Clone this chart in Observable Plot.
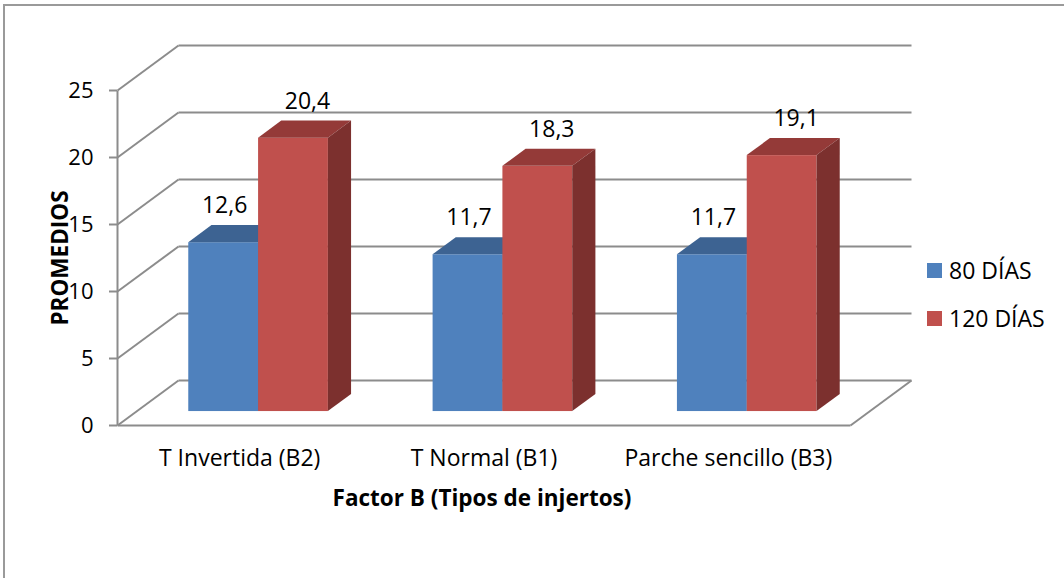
<!DOCTYPE html>
<html>
<head>
<meta charset="utf-8">
<script src="https://cdn.jsdelivr.net/npm/d3@7"></script>
<script src="https://cdn.jsdelivr.net/npm/@observablehq/plot@0.6"></script>
<style>
  html, body { margin: 0; padding: 0; background: #fff; }
  #chart { position: relative; width: 1064px; height: 578px; overflow: hidden; font-family: "Open Sans", Lato, sans-serif; color: #000; }
  #frame { position: absolute; left: 3px; top: 4px; right: -10px; bottom: -10px; border-left: 2px solid #9a9a9a; border-top: 2px solid #9a9a9a; }
  #plot { position: absolute; left: 0; top: 0; }
  .legend { position: absolute; left: 927px; top: 255px; font-size: 23px; }
  .legend .row { display: flex; align-items: center; height: 30px; margin-bottom: 18px; }
  .legend .sw { width: 15px; height: 15px; margin-right: 7px; }
  .title { position: absolute; font-weight: bold; font-size: 22.5px; white-space: nowrap; line-height: 1; }
  #ytitle { left: 60px; top: 258px; transform: translate(-50%, -50%) rotate(-90deg); }
  #xtitle { left: 482px; top: 498px; transform: translate(-50%, -50%); }
</style>
</head>
<body>
<div id="chart">
  <div id="frame"></div>
  <div id="plot"></div>
  <div class="title" id="ytitle"></div>
  <div class="title" id="xtitle"></div>
  <div class="legend" id="legend"></div>
</div>
<script>
// Graft types (Factor B) and mean values at 80 and 120 days
const categories = ["T Invertida (B2)", "T Normal (B1)", "Parche sencillo (B3)"];
const series = ["80 DÍAS", "120 DÍAS"];
const dias80 = [12.6, 11.7, 11.7];
const dias120 = [20.4, 18.3, 19.1];
const yTicks = [0, 5, 10, 15, 20, 25];
const yMax = 25;
const yTitle = "PROMEDIOS";
const xTitle = "Factor B (Tipos de injertos)";

// Colours for each series: front face, top face, side face
const faceColors = {
  "80 DÍAS": {front: "#4f81bd", top: "#3d6392", side: "#385d8a"},
  "120 DÍAS": {front: "#c0504d", top: "#943a38", side: "#7c302e"}
};

// Oblique 3D projection: a point at depth z (0 = front, 1 = back wall)
// is shifted right by z*depthX category units and up by z*depthY value units.
const W = 1064, H = 578;
const mLeft = 117, mRight = 153, mTop = 45, mBottom = 153;
const depthPx = {x: 61, y: 45};
const pxPerCat = (W - mLeft - mRight - depthPx.x) / categories.length;
const pxPerVal = (H - mTop - mBottom - depthPx.y) / yMax;
const depthX = depthPx.x / pxPerCat;
const depthY = depthPx.y / pxPerVal;

// Bars sit between these depths; gap width 150% between clusters
const z0 = 0.31, z1 = 0.69;
const barW = 1 / 3.5;
const gapHalf = (1 - 2 * barW) / 2;

const bars = [];
categories.forEach((c, i) => {
  [dias80, dias120].forEach((vals, s) => {
    const a = i + gapHalf + s * barW;
    bars.push({key: c + "|" + series[s], series: series[s], cat: c, value: vals[i], a, b: a + barW});
  });
});

function faces(name) {
  const bs = bars.filter(d => d.series === name);
  const col = faceColors[name];
  const tops = bs.flatMap(d => [
    {key: d.key, y: d.value + z0 * depthY, x1: d.a + z0 * depthX, x2: d.b + z0 * depthX},
    {key: d.key, y: d.value + z1 * depthY, x1: d.a + z1 * depthX, x2: d.b + z1 * depthX}
  ]);
  const sides = bs.flatMap(d => [
    {key: d.key, x: d.b + z0 * depthX, y1: z0 * depthY, y2: d.value + z0 * depthY},
    {key: d.key, x: d.b + z1 * depthX, y1: z1 * depthY, y2: d.value + z1 * depthY}
  ]);
  return [
    Plot.rect(bs, {x1: d => d.a + z0 * depthX, x2: d => d.b + z0 * depthX, y1: z0 * depthY, y2: d => d.value + z0 * depthY, fill: col.front}),
    Plot.areaX(tops, {y: "y", x1: "x1", x2: "x2", z: "key", fill: col.top}),
    Plot.areaY(sides, {x: "x", y1: "y1", y2: "y2", z: "key", fill: col.side})
  ];
}

// value label above the top of each bar
function valueLabels(name, dx) {
  return Plot.text(bars.filter(d => d.series === name), {
    x: d => (d.a + d.b) / 2 + z0 * depthX,
    y: d => d.value + z0 * depthY,
    text: d => d.value.toFixed(1).replace(".", ","),
    dx,
    dy: -37,
    fill: "#000",
    fontSize: 23
  });
}

const gridColor = "#8c8c8c";

const chart = Plot.plot({
  width: W,
  height: H,
  marginLeft: mLeft,
  marginRight: mRight,
  marginTop: mTop,
  marginBottom: mBottom,
  style: {fontFamily: "'Open Sans', Lato, sans-serif", fontSize: "23px", color: "#000", background: "transparent"},
  x: {domain: [0, categories.length + depthX], axis: null},
  y: {domain: [0, yMax + depthY], axis: null},
  marks: [
    // side-wall diagonals and back-wall gridlines
    Plot.link(yTicks, {x1: 0, y1: d => d, x2: depthX, y2: d => d + depthY, stroke: gridColor, strokeWidth: 2}),
    Plot.link(yTicks, {x1: depthX, y1: d => d + depthY, x2: categories.length + depthX, y2: d => d + depthY, stroke: gridColor, strokeWidth: 2}),
    // floor edges and front value axis line
    Plot.link([0], {x1: 0, y1: 0, x2: categories.length, y2: 0, stroke: gridColor, strokeWidth: 2}),
    Plot.link([0], {x1: categories.length, y1: 0, x2: categories.length + depthX, y2: depthY, stroke: gridColor, strokeWidth: 2}),
    Plot.link([0], {x1: 0, y1: 0, x2: 0, y2: yMax, stroke: gridColor, strokeWidth: 2}),
    // value axis ticks and labels
    Plot.axisY({ticks: yTicks, anchor: "left", tickSize: 8, tickPadding: 16, stroke: gridColor, strokeWidth: 2, fill: "#000", fontSize: 22, label: null}),
    // category labels
    Plot.axisX({ticks: categories.map((c, i) => i + 0.5), tickFormat: (d, i) => categories[i], anchor: "bottom", tickSize: 0, tickPadding: 24, fill: "#000", fontSize: 23, label: null}),
    // 3D bars
    ...faces("80 DÍAS"),
    ...faces("120 DÍAS"),
    valueLabels("80 DÍAS", 1),
    valueLabels("120 DÍAS", 14)
  ]
});
document.getElementById("plot").appendChild(chart);

document.getElementById("ytitle").textContent = yTitle;
document.getElementById("xtitle").textContent = xTitle;

// legend
const legend = document.getElementById("legend");
series.forEach(s => {
  const row = document.createElement("div");
  row.className = "row";
  const sw = document.createElement("div");
  sw.className = "sw";
  sw.style.background = faceColors[s].front;
  const label = document.createElement("span");
  label.textContent = s;
  row.appendChild(sw);
  row.appendChild(label);
  legend.appendChild(row);
});
</script>
</body>
</html>
